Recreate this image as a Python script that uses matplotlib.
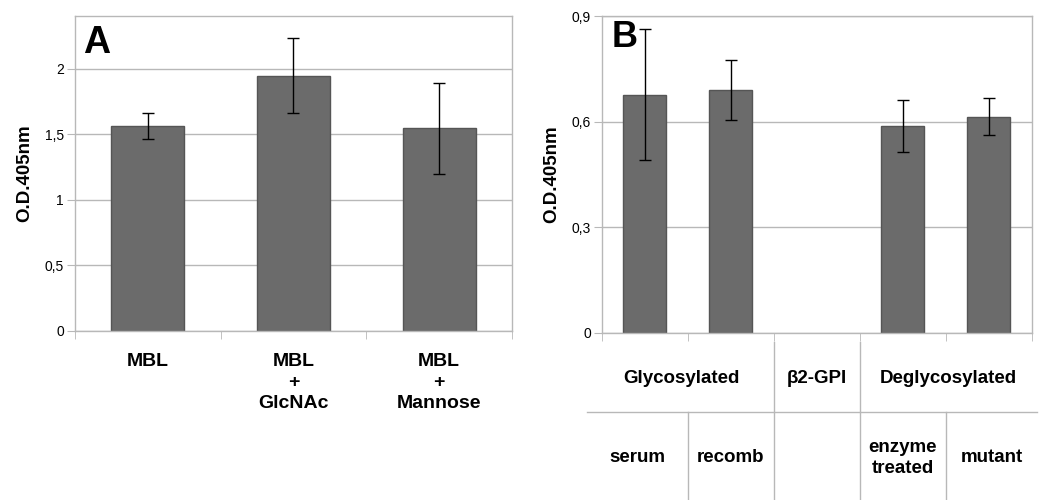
import matplotlib.pyplot as plt
import numpy as np

plt.rcParams['font.family'] = ['Liberation Sans', 'DejaVu Sans']

# panel A
a_labels = ['MBL', 'MBL\n+\nGlcNAc', 'MBL\n+\nMannose']
a_values = [1.56, 1.945, 1.545]
a_errors = [0.10, 0.285, 0.345]

# panel B
b_values = [0.677, 0.690, 0.0, 0.588, 0.614]
b_errors = [0.187, 0.086, 0.0, 0.074, 0.053]
b_groups = ['Glycosylated', 'β2-GPI', 'Deglycosylated']
b_sub = ['serum', 'recomb', '', 'enzyme\ntreated', 'mutant']

bar_col = '#6b6b6b'
edge_col = '#555555'
grid_col = '#b8b8b8'

fig = plt.figure(figsize=(10.5, 5), dpi=100)
axA = fig.add_axes([0.0714, 0.338, 0.4162, 0.630])
axB = fig.add_axes([0.5733, 0.334, 0.4095, 0.634])


def style(ax):
    for s in ax.spines.values():
        s.set_color(grid_col)
        s.set_linewidth(1)
    ax.set_axisbelow(True)
    ax.yaxis.grid(True, color=grid_col, linewidth=1)
    ax.tick_params(axis='y', length=6, color=grid_col, labelsize=10, pad=2)
    ax.tick_params(axis='x', which='major', length=0)
    ax.tick_params(axis='x', which='minor', length=6, color=grid_col)
    ax.set_ylabel('O.D.405nm', fontsize=13.5, fontweight='bold', labelpad=8)


# A
xa = np.arange(len(a_values))
axA.bar(xa, a_values, width=0.5, color=bar_col, edgecolor=edge_col, linewidth=1,
        yerr=a_errors, error_kw=dict(ecolor='black', elinewidth=1, capsize=4, capthick=1))
axA.set_xlim(-0.5, 2.5)
axA.set_ylim(0, 2.4)
axA.set_yticks([0, 0.5, 1, 1.5, 2])
axA.set_yticklabels(['0', '0,5', '1', '1,5', '2'])
axA.set_xticks(xa)
axA.set_xticklabels(a_labels, fontsize=14, fontweight='bold', linespacing=1.3)
axA.set_xticks(np.arange(-0.5, 3, 1), minor=True)
style(axA)
axA.tick_params(axis='x', which='major', pad=16)
axA.text(0.018, 0.970, 'A', transform=axA.transAxes, fontsize=27, fontweight='bold',
         va='top', ha='left')

# B
xb = np.arange(len(b_values))
edges = [edge_col if v > 0 else 'none' for v in b_values]
axB.bar(xb, b_values, width=0.5, color=bar_col, edgecolor=edges, linewidth=1)
mask = np.array(b_errors) > 0
axB.errorbar(xb[mask], np.array(b_values)[mask], yerr=np.array(b_errors)[mask], fmt='none',
             ecolor='black', elinewidth=1, capsize=4, capthick=1)
axB.set_xlim(-0.5, 4.5)
axB.set_ylim(0, 0.9)
axB.set_yticks([0, 0.3, 0.6, 0.9])
axB.set_yticklabels(['0', '0,3', '0,6', '0,9'])
axB.set_xticks([])
axB.set_xticks(np.arange(-0.5, 5, 1), minor=True)
style(axB)
axB.text(0.022, 0.988, 'B', transform=axB.transAxes, fontsize=26, fontweight='bold',
         va='top', ha='left')

# table under panel B
tr = axB.get_xaxis_transform()
kw = dict(color=grid_col, linewidth=1, transform=tr, clip_on=False)
axB.plot([-0.674, 4.56], [-0.249, -0.249], **kw)
for xv in [1.5, 2.5]:
    axB.plot([xv, xv], [-0.028, -0.53], **kw)
for xv in [0.5, 3.5]:
    axB.plot([xv, xv], [-0.249, -0.53], **kw)

group_x = [0.42, 2.0, 3.53]
for gx, g in zip(group_x, b_groups):
    axB.text(gx, -0.142, g, transform=tr, ha='center', va='center',
             fontsize=13.5, fontweight='bold')
sub_x = [-0.09, 1.0, 2.0, 3.0, 4.03]
for sx, s in zip(sub_x, b_sub):
    if s:
        axB.text(sx, -0.394, s, transform=tr, ha='center', va='center',
                 fontsize=13.5, fontweight='bold', linespacing=1.25)

fig.savefig('out.png', dpi=100)
